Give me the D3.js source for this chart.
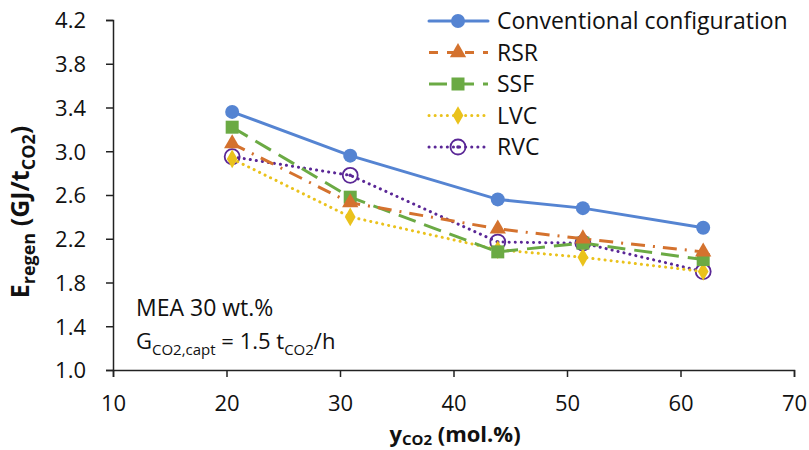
<!DOCTYPE html>
<html>
<head>
  <meta charset="UTF-8">
  <style>
    body { margin: 0; background: #fff; }
    text { font-family: "Open Sans", "Noto Sans", sans-serif; fill: #111; }
  </style>
</head>
<body>
<svg id="chart" width="809" height="450"></svg>
<script src="https://cdn.jsdelivr.net/npm/d3@7"></script>
<script>
// data
var xValues = [20.5, 30.9, 43.9, 51.4, 62.0];
var conventional = [3.36, 2.96, 2.56, 2.48, 2.30];
var rsr = [3.07, 2.53, 2.29, 2.20, 2.08];
var ssf = [3.22, 2.58, 2.08, 2.16, 2.01];
var lvc = [2.93, 2.40, 2.10, 2.03, 1.90];
var rvc = [2.95, 2.78, 2.17, 2.16, 1.90];
var seriesNames = ["Conventional configuration", "RSR", "SSF", "LVC", "RVC"];
var xTicks = [10, 20, 30, 40, 50, 60, 70];
var yTicks = [1.0, 1.4, 1.8, 2.2, 2.6, 3.0, 3.4, 3.8, 4.2];

var styles = [
  { color: "#5584D2", dash: null, cap: "round", marker: "circle" },
  { color: "#D4722E", dash: "14,8,2,8", cap: "butt", marker: "triangle" },
  { color: "#6BAA44", dash: "18,9", cap: "butt", marker: "square" },
  { color: "#EAC21C", dash: "0.1,6", cap: "round", marker: "diamond" },
  { color: "#5A2796", dash: "0.1,6", cap: "round", marker: "ring" }
];
var allSeries = [conventional, rsr, ssf, lvc, rvc];

var svg = d3.select("#chart");
var x = d3.scaleLinear().domain([10, 70]).range([113, 794]);
var y = d3.scaleLinear().domain([1.0, 4.2]).range([370, 20]);

// axes
var xAxis = svg.append("g").attr("transform", "translate(0,370)")
  .call(d3.axisBottom(x).tickValues(xTicks).tickSize(7).tickFormat(d3.format("d")));
var yAxis = svg.append("g").attr("transform", "translate(113,0)")
  .call(d3.axisLeft(y).tickValues(yTicks).tickSize(7).tickFormat(d3.format(".1f")));
[xAxis, yAxis].forEach(function(a) {
  a.select(".domain").attr("stroke", "#222").attr("stroke-width", 1.5);
  a.selectAll(".tick line").attr("stroke", "#222").attr("stroke-width", 1.5);
  a.selectAll(".tick text").style("font-size", "22px").attr("fill", "#111");
});
xAxis.selectAll(".tick text").attr("y", 41).attr("dy", 0);
yAxis.selectAll(".tick text").attr("x", -27).attr("dy", "0.36em");

function drawMarker(g, type, cx, cy, color) {
  if (type === "circle") {
    g.append("circle").attr("cx", cx).attr("cy", cy).attr("r", 7).attr("fill", color);
  } else if (type === "triangle") {
    g.append("path").attr("d", d3.symbol(d3.symbolTriangle, 115)()).attr("transform", "translate(" + cx + "," + cy + ")").attr("fill", color);
  } else if (type === "square") {
    g.append("rect").attr("x", cx - 6.5).attr("y", cy - 6.5).attr("width", 13).attr("height", 13).attr("fill", color);
  } else if (type === "diamond") {
    g.append("path").attr("d", d3.symbol(d3.symbolDiamond, 100)()).attr("transform", "translate(" + cx + "," + cy + ")").attr("fill", color);
  } else if (type === "ring") {
    g.append("circle").attr("cx", cx).attr("cy", cy).attr("r", 7.5).attr("fill", "none").attr("stroke", color).attr("stroke-width", 1.8);
    g.append("circle").attr("cx", cx).attr("cy", cy).attr("r", 1.8).attr("fill", color);
  }
}

var line = d3.line().x(function(d, i) { return x(xValues[i]); }).y(function(d) { return y(d); });

// draw back to front so the conventional line sits on top
[4, 3, 2, 1, 0].forEach(function(k) {
  var s = styles[k];
  var g = svg.append("g");
  g.append("path").datum(allSeries[k]).attr("d", line)
    .attr("fill", "none").attr("stroke", s.color).attr("stroke-width", 3)
    .attr("stroke-dasharray", s.dash).attr("stroke-linecap", s.cap);
  allSeries[k].forEach(function(v, i) {
    drawMarker(g, s.marker, x(xValues[i]), y(v), s.color);
  });
});

// legend
var legend = svg.append("g");
seriesNames.forEach(function(name, i) {
  var s = styles[i];
  var ly = 21 + i * 31.5;
  legend.append("line").attr("x1", 429).attr("x2", 488).attr("y1", ly).attr("y2", ly)
    .attr("stroke", s.color).attr("stroke-width", 3)
    .attr("stroke-dasharray", i === 1 ? "9,9" : s.dash).attr("stroke-linecap", s.cap);
  drawMarker(legend, s.marker, 458, ly, s.color);
  legend.append("text").attr("x", 497).attr("y", ly).attr("dy", "0.36em")
    .style("font-size", "23px").text(name);
});

// axis titles
var xt = svg.append("text").attr("x", 455).attr("y", 442).attr("text-anchor", "middle")
  .style("font-size", "22px").style("font-weight", "bold");
xt.append("tspan").text("y");
xt.append("tspan").attr("dy", 3).style("font-size", "15px").text("CO2");
xt.append("tspan").attr("dy", -3).text(" (mol.%)");

var yt = svg.append("text").attr("transform", "translate(29,212) rotate(-90)")
  .attr("text-anchor", "middle").style("font-size", "25px").style("font-weight", "bold");
yt.append("tspan").text("E");
yt.append("tspan").attr("dy", 6).style("font-size", "18px").text("regen");
yt.append("tspan").attr("dy", -6).text(" (GJ/t");
yt.append("tspan").attr("dy", 6).style("font-size", "18px").text("CO2");
yt.append("tspan").attr("dy", -6).text(")");

// annotation
svg.append("text").attr("x", 136).attr("y", 316).style("font-size", "23px").text("MEA 30 wt.%");
var ann = svg.append("text").attr("x", 136).attr("y", 349).style("font-size", "22px");
ann.append("tspan").text("G");
ann.append("tspan").attr("dy", 6).style("font-size", "15px").text("CO2,capt");
ann.append("tspan").attr("dy", -6).text(" = 1.5 t");
ann.append("tspan").attr("dy", 6).style("font-size", "15px").text("CO2");
ann.append("tspan").attr("dy", -6).text("/h");
</script>
</body>
</html>
